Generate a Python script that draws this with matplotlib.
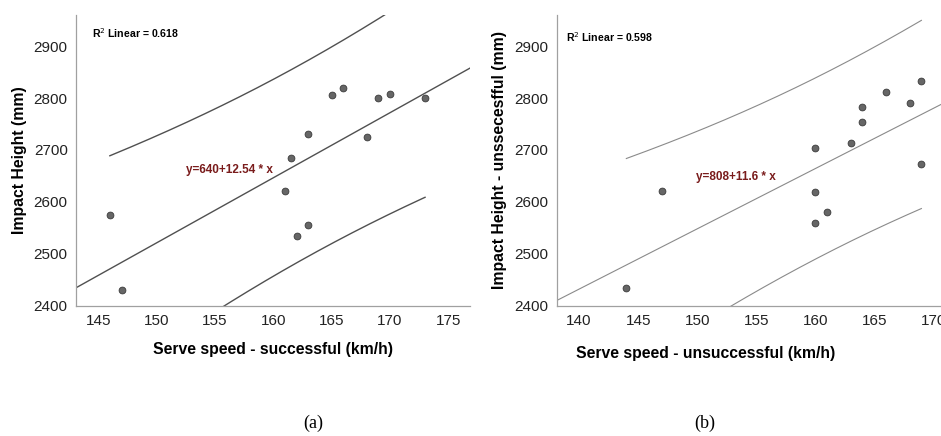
import numpy as np
import matplotlib
matplotlib.use("Agg")
import matplotlib.pyplot as plt

plt.rcParams["font.family"] = ["Liberation Sans", "DejaVu Sans"]

# (a) successful serves
speed_a = [146, 147, 161, 161.5, 162, 163, 163, 165, 166, 168, 169, 170, 173]
height_a = [2575, 2430, 2620, 2685, 2535, 2730, 2555, 2805, 2820, 2725, 2800, 2808, 2800]
coef_a = (640, 12.54)
r2_a = "0.618"

# (b) unsuccessful serves
speed_b = [144, 147, 160, 160, 160, 161, 163, 164, 164, 166, 168, 169, 169]
height_b = [2435, 2620, 2703, 2619, 2560, 2580, 2713, 2783, 2753, 2812, 2790, 2832, 2673]
coef_b = (808, 11.6)
r2_b = "0.598"

T_975 = 2.201  # t(0.975, df=11)


def panel(ax, x, y, coef, r2, xlim, xticks, xlabel, ylabel, line_col, lw, eq_pos, r2_pos):
    x = np.asarray(x, float)
    y = np.asarray(y, float)
    n = len(x)
    a, b = coef
    # residual spread from an OLS fit of the points, band centred on the printed line
    bb, aa = np.polyfit(x, y, 1)
    s = np.sqrt(np.sum((y - (aa + bb * x)) ** 2) / (n - 2))
    sxx = np.sum((x - x.mean()) ** 2)

    xx = np.linspace(xlim[0], xlim[1], 200)
    ax.plot(xx, a + b * xx, color=line_col, lw=lw)
    xs = np.linspace(x.min(), x.max(), 200)
    half = T_975 * s * np.sqrt(1 + 1 / n + (xs - x.mean()) ** 2 / sxx)
    ax.plot(xs, a + b * xs + half, color=line_col, lw=lw)
    ax.plot(xs, a + b * xs - half, color=line_col, lw=lw)

    ax.scatter(x, y, s=24, color="#666666", edgecolor="#3a3a3a", linewidth=0.6, zorder=3)

    ax.set_xlim(*xlim)
    ax.set_ylim(2400, 2960)
    ax.set_xticks(xticks)
    ax.set_yticks(range(2400, 2901, 100))
    ax.tick_params(length=0, labelsize=11, labelcolor="#222222", pad=6)
    for sp in ["top", "right"]:
        ax.spines[sp].set_visible(False)
    for sp in ["left", "bottom"]:
        ax.spines[sp].set_color("#a0a0a0")
        ax.spines[sp].set_linewidth(0.9)
    ax.set_xlabel(xlabel, fontsize=11.3, fontweight="bold", labelpad=10)
    ax.set_ylabel(ylabel, fontsize=11.3, fontweight="bold", labelpad=5)

    ax.text(eq_pos[0], eq_pos[1], f"y={a:g}+{b:g} * x", color="#7a1c1c",
            fontsize=8.5, fontweight="bold", va="center", ha="left")
    ax.text(r2_pos[0], r2_pos[1], r"R$^{2}$ Linear = " + r2, fontsize=7.6,
            fontweight="bold", va="center", ha="left")


fig = plt.figure(figsize=(9.41, 4.36), dpi=100)
W, H = 941, 436

ax1 = fig.add_axes([76 / W, 1 - 305.7 / H, (470 - 76) / W, (305.7 - 15) / H])
panel(ax1, speed_a, height_a, coef_a, r2_a, (143.1, 176.85), range(145, 176, 5),
      "Serve speed - successful (km/h)", "Impact Height (mm)",
      "#505050", 1.0, (152.5, 2662), (144.5, 2925))

ax2 = fig.add_axes([556.7 / W, 1 - 305.7 / H, (1004 - 556.7) / W, (305.7 - 15) / H])
panel(ax2, speed_b, height_b, coef_b, r2_b, (138.1, 176.0), range(140, 176, 5),
      "Serve speed - unsuccessful (km/h)", "Impact Height - unssecesfful (mm)",
      "#8a8a8a", 0.8, (149.9, 2647), (138.9, 2917))
ax2.xaxis.set_label_coords((706 - 556.7) / (1004 - 556.7), -0.138)

fig.text(313 / W, 1 - 423 / H, "(a)", family=["Liberation Serif", "DejaVu Serif"],
         fontsize=13, ha="center", va="center")
fig.text(705 / W, 1 - 423 / H, "(b)", family=["Liberation Serif", "DejaVu Serif"],
         fontsize=13, ha="center", va="center")

fig.savefig("out.png", dpi=100)
